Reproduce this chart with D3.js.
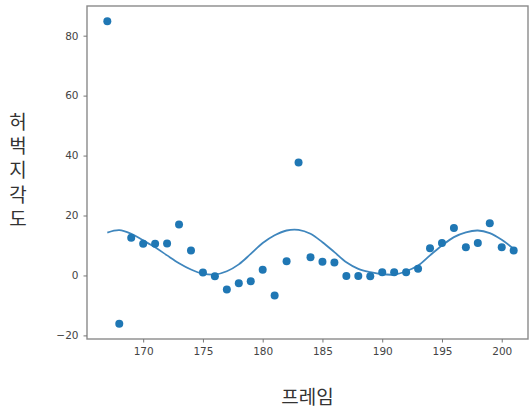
<!DOCTYPE html>
<html>
<head>
<meta charset="utf-8">
<script src="https://cdn.jsdelivr.net/npm/d3@7"></script>
<style>
  body { margin: 0; background: #fff; }
  svg { display: block; }
</style>
</head>
<body>
<div id="chart"></div>
<script>
// frame numbers and measured thigh angle
var frames = [167, 168, 169, 170, 171, 172, 173, 174, 175, 176, 177, 178, 179, 180, 181, 182, 183, 184,
              185, 186, 187, 188, 189, 190, 191, 192, 193, 194, 195, 196, 197, 198, 199, 200, 201];
var angles = [84.8, -16.1, 12.6, 10.6, 10.6, 10.7, 17.0, 8.3, 1.0, -0.3, -4.7, -2.6, -1.9, 1.9, -6.7, 4.7, 37.7, 6.1,
              4.6, 4.3, -0.2, -0.2, -0.3, 1.1, 1.1, 1.1, 2.2, 9.1, 10.8, 15.8, 9.4, 10.8, 17.4, 9.4, 8.3];
// fitted curve at each frame
var fitted = [14.3, 15.1, 13.9, 11.7, 9.4, 6.7, 4.1, 2.0, 0.6, 0.3, 1.4, 3.7, 7.2, 10.8, 13.4, 15.0, 15.2, 13.9,
              11.1, 7.8, 4.4, 2.2, 1.1, 0.4, 0.3, 1.4, 3.3, 6.7, 10.0, 12.8, 14.4, 15.0, 14.1, 11.9, 8.9];
var xTicks = [170, 175, 180, 185, 190, 195, 200];
var yTicks = [-20, 0, 20, 40, 60, 80];
var xLabel = "프레임";
var yLabel = "허벅지 각도";

var width = 532, height = 409;
var margin = { top: 6, right: 4, bottom: 70, left: 87 };

var svg = d3.select("#chart").append("svg")
    .attr("width", width)
    .attr("height", height);

var x = d3.scaleLinear().domain([165.3, 202.7]).range([margin.left, 534]);
var y = d3.scaleLinear().domain([-21.2, 89.9]).range([height - margin.bottom, margin.top]);

var plotRight = width - margin.right;
var plotBottom = height - margin.bottom;

// frame
svg.append("rect")
    .attr("x", margin.left)
    .attr("y", margin.top)
    .attr("width", plotRight - margin.left)
    .attr("height", plotBottom - margin.top)
    .attr("fill", "none")
    .attr("stroke", "#8a8a8a")
    .attr("stroke-width", 1.4);

var tickFont = "'DejaVu Sans', sans-serif";

var xAxis = svg.append("g")
    .attr("transform", "translate(0," + plotBottom + ")")
    .call(d3.axisBottom(x).tickValues(xTicks).tickSize(3.5).tickPadding(5).tickFormat(d3.format("d")));
var yAxis = svg.append("g")
    .attr("transform", "translate(" + margin.left + ",0)")
    .call(d3.axisLeft(y).tickValues(yTicks).tickSize(3.5).tickPadding(5).tickFormat(function (d) {
        return d < 0 ? "\u2212" + Math.abs(d) : d;
    }));

[xAxis, yAxis].forEach(function (g) {
    g.select(".domain").remove();
    g.selectAll(".tick line").attr("stroke", "#777").attr("stroke-width", 1);
    g.selectAll(".tick text")
        .attr("fill", "#444")
        .style("font-family", tickFont)
        .style("font-size", "10.5px");
});

// fitted curve
var line = d3.line()
    .x(function (d, i) { return x(frames[i]); })
    .y(function (d) { return y(d); })
    .curve(d3.curveCatmullRom);

svg.append("path")
    .datum(fitted)
    .attr("d", line)
    .attr("fill", "none")
    .attr("stroke", "#3f86bd")
    .attr("stroke-width", 1.8);

// scatter points
svg.selectAll("circle.pt")
    .data(angles)
    .enter().append("circle")
    .attr("class", "pt")
    .attr("cx", function (d, i) { return x(frames[i]); })
    .attr("cy", function (d) { return y(d); })
    .attr("r", 4)
    .attr("fill", "#1f77b4");

var labelFont = "'Noto Sans CJK KR', sans-serif";

// x label
svg.append("text")
    .attr("x", (margin.left + plotRight) / 2)
    .attr("y", 404)
    .attr("text-anchor", "middle")
    .attr("fill", "#333")
    .style("font-family", labelFont)
    .style("font-size", "19px")
    .text(xLabel);

// y label, characters stacked upright (vertical writing mode);
// the space is kept but drawn tiny so the column stays evenly spaced
var yLab = svg.append("text")
    .attr("x", 18)
    .attr("y", 112)
    .attr("fill", "#333")
    .style("font-family", labelFont)
    .style("font-size", "19px")
    .style("writing-mode", "vertical-rl")
    .style("text-orientation", "upright")
    .style("letter-spacing", "5px");

yLabel.split("").forEach(function (ch) {
    var t = yLab.append("tspan").text(ch);
    if (ch === " ") t.style("font-size", "1px").style("letter-spacing", "0px");
});
</script>
</body>
</html>
